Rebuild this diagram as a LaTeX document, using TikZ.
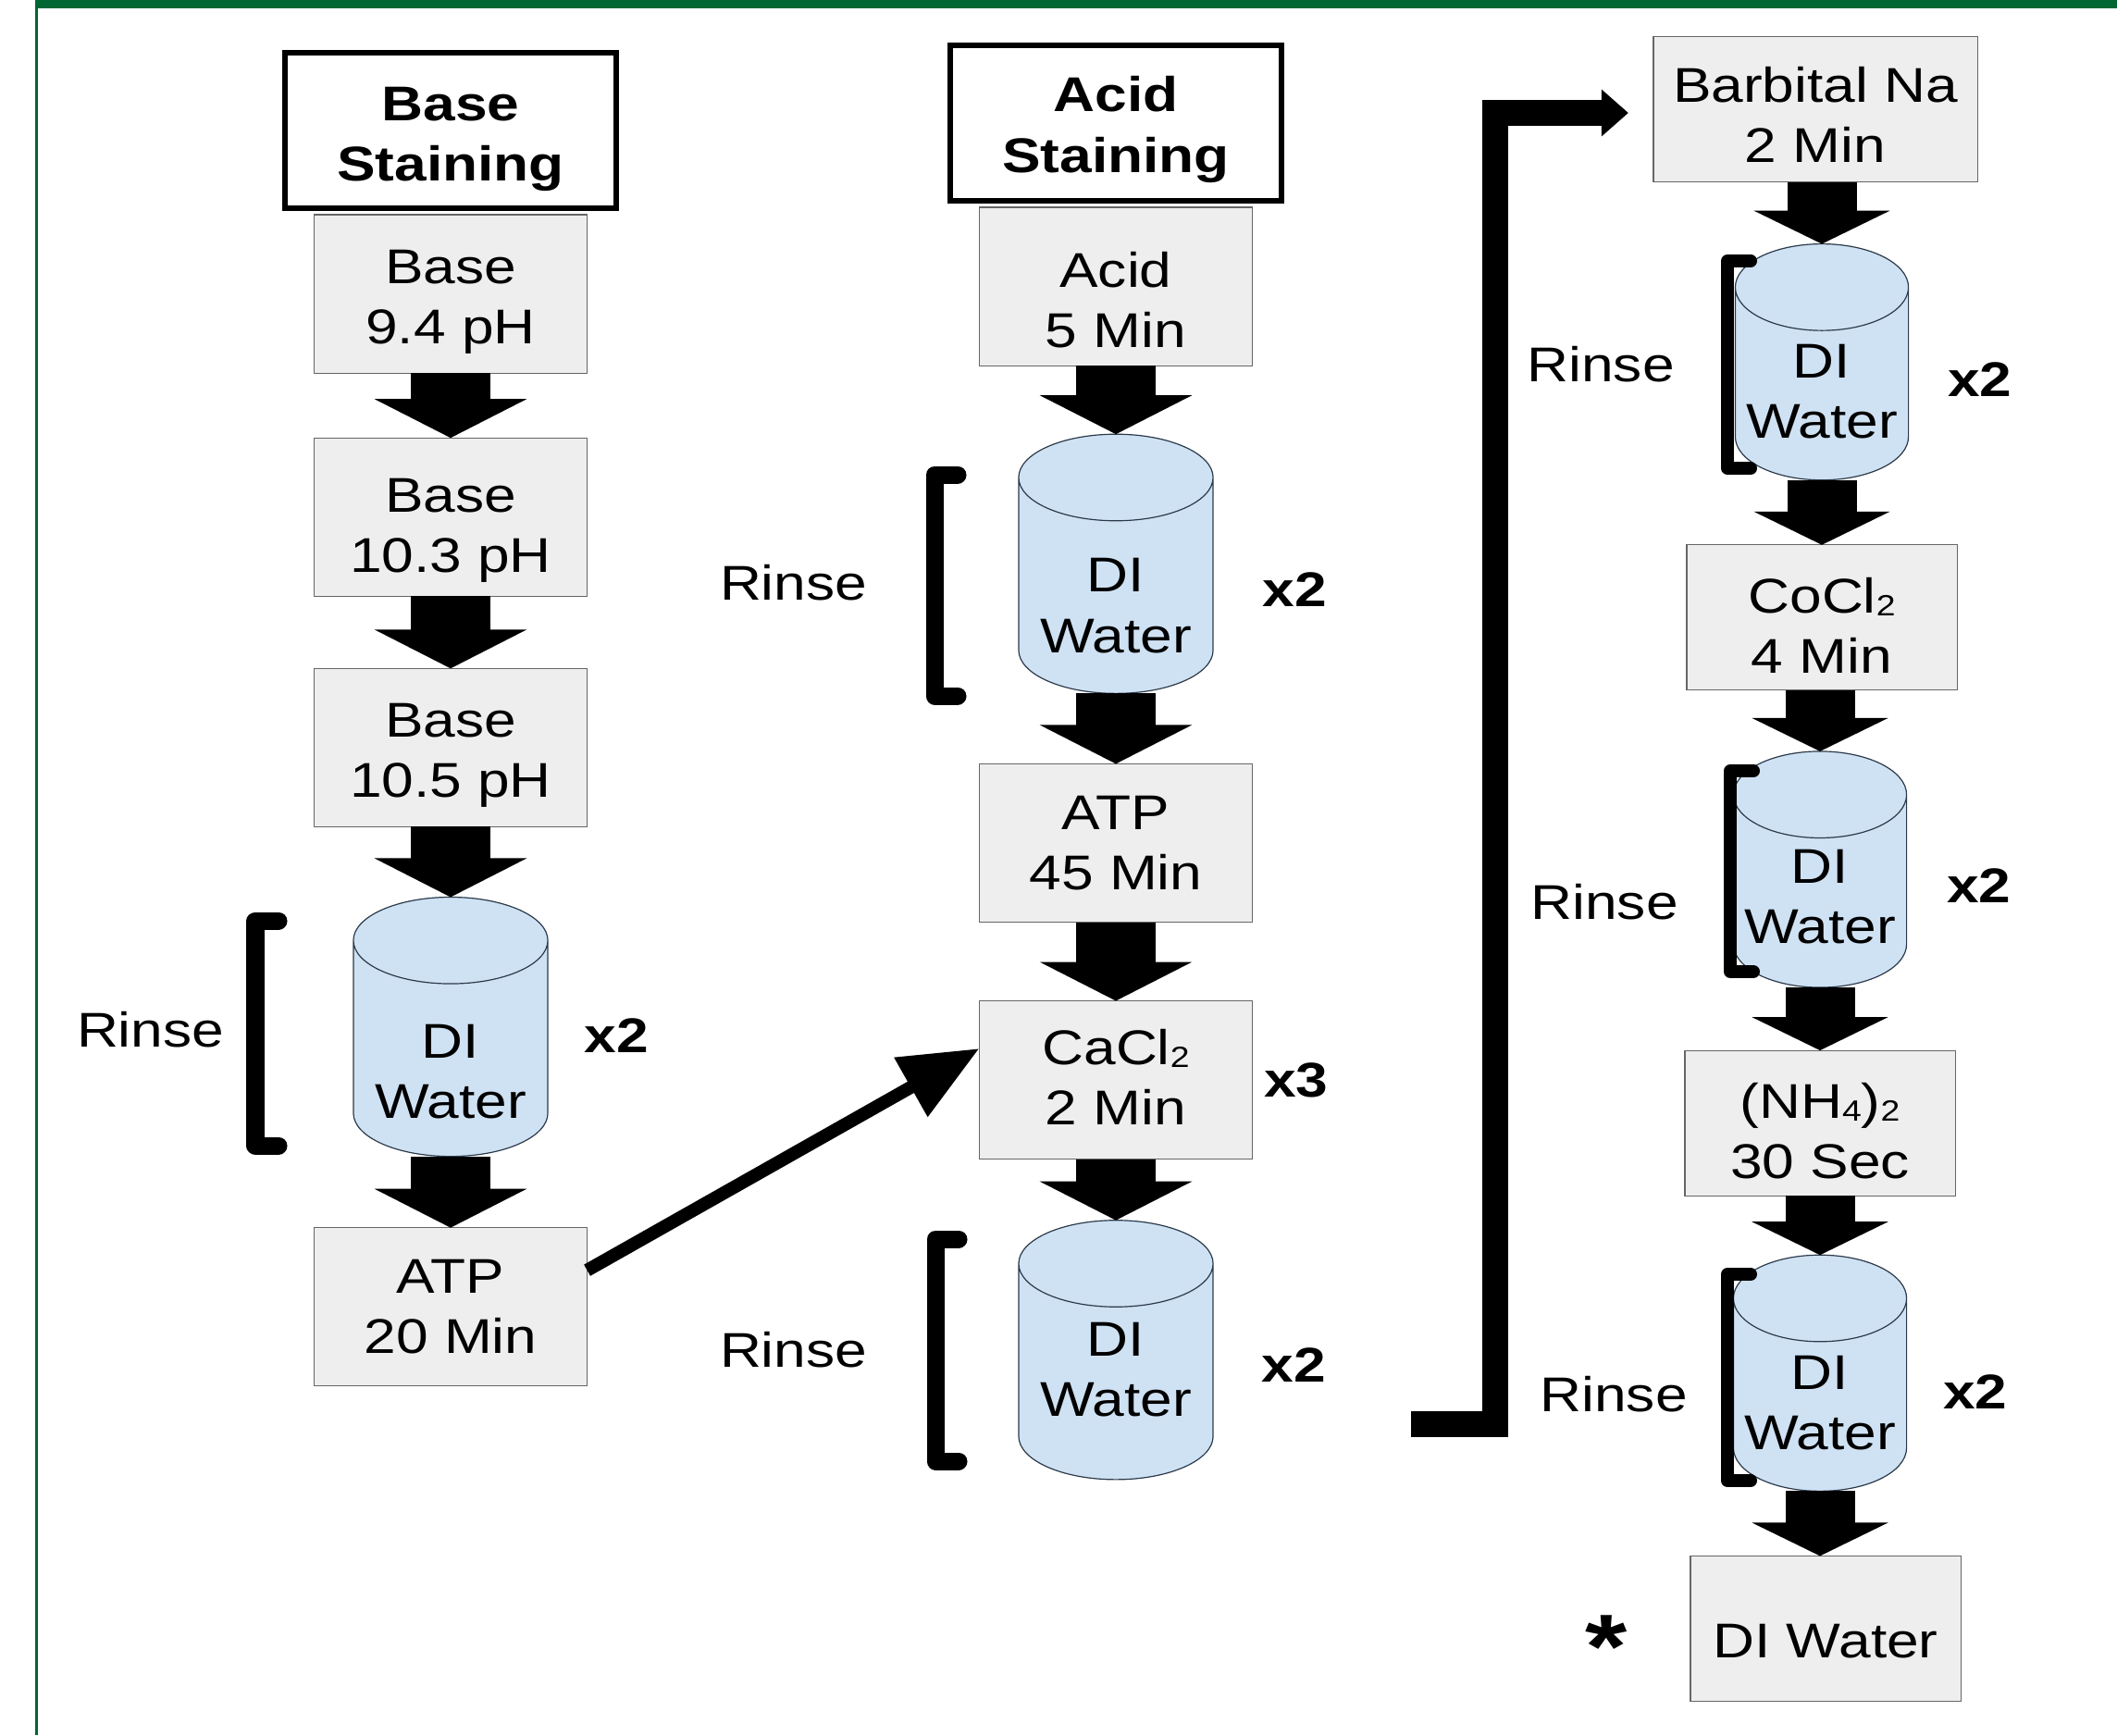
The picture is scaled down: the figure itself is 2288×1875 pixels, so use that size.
\documentclass[tikz,border=0pt]{standalone}
\usepackage{fontspec}
\setmainfont[FakeStretch=1.18]{Liberation Sans}
\usetikzlibrary{arrows.meta,calc,positioning,shapes.geometric}
\definecolor{PageGreen}{HTML}{006633}
\definecolor{BoxGray}{HTML}{EEEEEE}
\definecolor{BoxEdge}{HTML}{666666}
\definecolor{WaterBlue}{HTML}{CFE2F3}
\definecolor{WaterEdge}{HTML}{2B3A4A}
\newcommand{\lowsub}[1]{\raisebox{-0.03cm}{\fontsize{9}{9}\selectfont #1}}
\begin{document}
\begin{tikzpicture}[x=0.01cm,y=-0.01cm,
      every node/.style={outer sep=0pt,align=center,font=\fontsize{15}{18.5}\selectfont},
      textdrop/.style={text height=#1},
      stagebox/.style={draw=black,line width=0.06cm,fill=white,minimum width=3.57cm,minimum height=1.68cm,font=\fontsize{15}{18.5}\selectfont\bfseries,text depth=0pt},
      stepbox/.style={draw=BoxEdge,fill=BoxGray,line width=0.012cm,minimum width=2.95cm,minimum height=1.71cm,text depth=0pt},
      stepboxs/.style={stepbox,minimum width=2.92cm,minimum height=1.57cm},
      water/.style={cylinder,shape border rotate=90,draw=WaterEdge,fill=WaterBlue,line width=0.012cm,
      aspect=0.5,minimum width=2.1cm,minimum height=2.8cm},
      waters/.style={water,aspect=0.5,minimum width=1.85cm,minimum height=2.55cm},
      times/.style={font=\fontsize{15}{18.5}\selectfont\bfseries},
      flow/.style={-{Triangle[length=0.42cm,width=1.63cm]},line width=0.85cm},
      flows/.style={-{Triangle[length=0.36cm,width=1.46cm]},line width=0.75cm},
      thinarr/.style={-{Triangle[length=0.85cm,width=0.70cm]},line width=0.14cm},
      elbow/.style={-{Triangle[length=0.29cm,width=0.49cm]},line width=0.28cm,shorten >=0.27cm},
      rinsebar/.style={line width=0.19cm,line cap=round,line join=round},
      rinsebars/.style={line width=0.14cm,line cap=round,line join=round}]
      \useasboundingbox (0,0) rectangle (2288,1875);
      \fill[PageGreen] (38,0) rectangle (2288,9);
      \fill[PageGreen] (38,0) rectangle (41,1875);
      % base column
      \node[stagebox,textdrop=1.09cm] (basehead) at (487,141) {Base\\Staining};
      \node[stepbox,below=0.07cm of basehead,textdrop=1.07cm] (base94) {Base\\9.4 pH};
      \node[stepbox,below=0.70cm of base94,textdrop=1.19cm] (base103) {Base\\10.3 pH};
      \node[stepbox,below=0.78cm of base103,textdrop=1.07cm] (base105) {Base\\10.5 pH};
      \node[water,below=0.76cm of base105,textdrop=1.30cm] (basewater) {DI\\Water};
      \node[stepbox,below=0.77cm of basewater] (baseatp) {ATP\\20 Min};
      \node[left=1.28cm of basewater,yshift=0.31cm] (baserinse) {Rinse};
      \node[times,right=0.28cm of basewater,yshift=0.25cm] (basetimes) {x2};
      \draw[rinsebar] (301,995) -| (276,1238) -- (301,1238);
      % acid column
      \node[stagebox,textdrop=1.06cm] (acidhead) at (1206,133) {Acid\\Staining};
      \node[stepbox,below=0.07cm of acidhead,textdrop=1.31cm] (acid) {Acid\\5 Min};
      \node[water,below=0.74cm of acid,textdrop=1.23cm] (acidwater) {DI\\Water};
      \node[stepbox,below=0.76cm of acidwater] (acidatp) {ATP\\45 Min};
      \node[stepbox,below=0.85cm of acidatp,textdrop=0.97cm] (cacl) {CaCl\lowsub{2}\\2 Min};
      \node[water,below=0.66cm of cacl,text depth=0.26cm] (caclwater) {DI\\Water};
      \node[left=1.52cm of acidwater,yshift=0.14cm] (acidrinse) {Rinse};
      \node[times,right=0.42cm of acidwater,yshift=0.07cm] (acidtimes) {x2};
      \node[times,right=0.01cm of cacl] (calctimes) {x3};
      \node[left=1.52cm of caclwater,yshift=0.35cm] (caclrinse) {Rinse};
      \node[times,right=0.41cm of caclwater,yshift=0.18cm] (cacltimes) {x2};
      \draw[rinsebar] (1035,513) -| (1010,752) -- (1035,752);
      \draw[rinsebar] (1036,1339) -| (1011,1579) -- (1036,1579);
      % last column
      \node[stepboxs,minimum width=3.5cm,textdrop=1.15cm] (barbital) at (1962,118) {Barbital Na\\2 Min};
      \node[waters,below=0.67cm of barbital,xshift=0.07cm,text depth=0.06cm] (barbwater) {DI\\Water};
      \node[stepboxs,below=0.70cm of barbwater,textdrop=1.21cm] (cocl) {CoCl\lowsub{2}\\4 Min};
      \node[waters,below=0.66cm of cocl,xshift=-0.02cm,text depth=0.12cm] (coclwater) {DI\\Water};
      \node[stepboxs,below=0.68cm of coclwater,textdrop=1.20cm] (nhfour) {(NH\lowsub{4})\lowsub{2}\\30 Sec};
      \node[waters,below=0.64cm of nhfour,text depth=0.06cm] (nhwater) {DI\\Water};
      \node[stepboxs,below=0.70cm of nhwater,xshift=0.06cm,textdrop=0.62cm] (lastwater) {DI Water};
      \node[left=0.54cm of barbwater,yshift=0.33cm] (barbrinse) {Rinse};
      \node[times,right=0.31cm of barbwater,yshift=0.16cm] (barbtimes) {x2};
      \node[left=0.48cm of coclwater] (coclrinse) {Rinse};
      \node[times,right=0.32cm of coclwater,yshift=0.17cm] (cocltimes) {x2};
      \node[left=0.38cm of nhwater,yshift=0.12cm] (nhrinse) {Rinse};
      \node[times,right=0.28cm of nhwater,yshift=0.15cm] (nhtimes) {x2};
      \node[font=\fontsize{28}{28}\selectfont\bfseries] (star) at (1736,1780) {*};
      \draw[rinsebars] (1892,282) -| (1867,506) -- (1892,506);
      \draw[rinsebars] (1895,833) -| (1870,1050) -- (1895,1050);
      \draw[rinsebars] (1892,1377) -| (1867,1600) -- (1892,1600);
      % connectors
      \draw[flow] (base94) -- (base103);
      \draw[flow] (base103) -- (base105);
      \draw[flow] (base105.south) -- (basewater.north);
      \draw[flow] (basewater.south) -- (baseatp.north);
      \draw[thinarr] (baseatp.15) -- (cacl.167);
      \draw[flow] (acid.south) -- (acidwater.north);
      \draw[flow] (acidwater.south) -- (acidatp.north);
      \draw[flow] (acidatp) -- (cacl);
      \draw[flow] (cacl.south) -- (caclwater.north);
      \coordinate (elbowstart) at (1525,1539);
      \coordinate (elbowtop) at (1616,122);
      \draw[elbow] (elbowstart) -| (elbowtop) -- (elbowtop -| barbital.west);
      \draw[flows] (barbital.south -| barbwater.north) -- (barbwater.north);
      \draw[flows] (barbwater.south) -- (barbwater.south |- cocl.north);
      \draw[flows] (cocl.south -| coclwater.north) -- (coclwater.north);
      \draw[flows] (coclwater.south) -- (coclwater.south |- nhfour.north);
      \draw[flows] (nhfour.south -| nhwater.north) -- (nhwater.north);
      \draw[flows] (nhwater.south) -- (nhwater.south |- lastwater.north);
    \end{tikzpicture}
\end{document}
